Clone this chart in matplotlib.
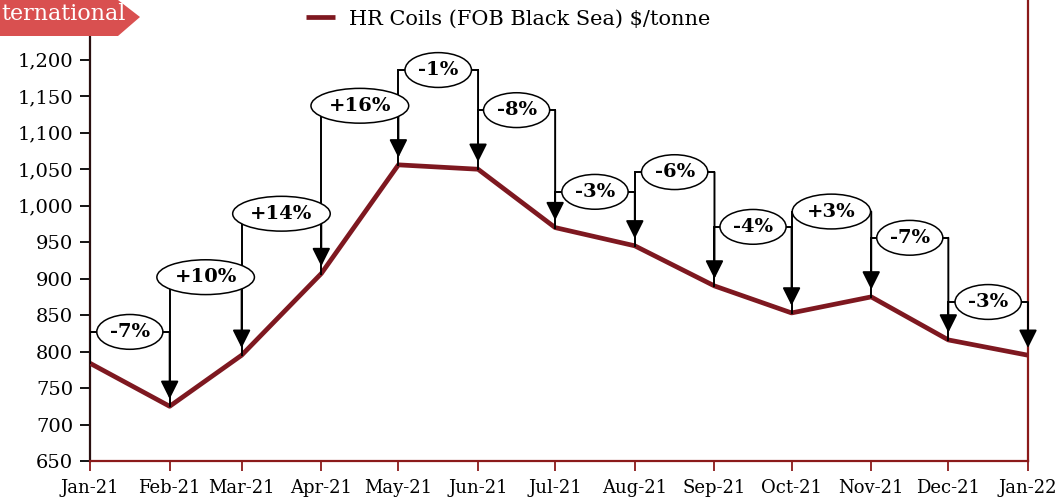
"""
HR Coils (FOB Black Sea) $/tonne, monthly Jan-21 to Jan-22,
with month-on-month change brackets.
"""
import datetime as dt
import matplotlib
matplotlib.use("Agg")
import matplotlib.pyplot as plt
import matplotlib.dates as mdates
from matplotlib.patches import Polygon

# ------------------------------------------------------------------
# Data
# ------------------------------------------------------------------
MONTHS = ["Jan-21", "Feb-21", "Mar-21", "Apr-21", "May-21", "Jun-21", "Jul-21",
          "Aug-21", "Sep-21", "Oct-21", "Nov-21", "Dec-21", "Jan-22"]
DATES = [dt.date(2021, m, 1) for m in range(1, 13)] + [dt.date(2022, 1, 1)]
PRICE = [784, 725, 795, 907, 1056, 1050, 970, 945, 890, 853, 875, 816, 795]

# month-on-month change labels as printed on the chart
CHANGE = ["-7%", "+10%", "+14%", "+16%", "-1%", "-8%",
          "-3%", "-6%", "-4%", "+3%", "-7%", "-3%"]
# level of each bracket's horizontal bar ($/tonne)
BRACKET = [827, 902, 989, 1137, 1186, 1131, 1019, 1046, 971, 992, 956, 868]

LINE_RED = "#7E1820"
SPINE_RED = "#8B1A1A"

plt.rcParams["font.family"] = ["DejaVu Serif"]

fig = plt.figure(figsize=(10.6, 5.04), dpi=100)
ax = fig.add_axes([90 / 1060, 1 - 461 / 504, (1028 - 90) / 1060, 461 / 504])

x = mdates.date2num(DATES)
ax.plot(x, PRICE, color=LINE_RED, lw=3.4, solid_capstyle="butt",
        label="HR Coils (FOB Black Sea) $/tonne", zorder=3)

# brackets: up from one month, across, arrow down onto the next
for i, lab in enumerate(CHANGE):
    x0, x1 = x[i], x[i + 1]
    lvl = BRACKET[i]
    ax.plot([x0, x0, x1], [PRICE[i], lvl, lvl], color="black", lw=1.4,
            zorder=4, solid_joinstyle="miter")
    ax.annotate("", xy=(x1, PRICE[i + 1] + 10), xytext=(x1, lvl),
                arrowprops=dict(arrowstyle="-|>,head_width=0.55,head_length=1.1",
                                color="black", lw=1.4, shrinkA=0, shrinkB=0),
                zorder=4)
    ax.text((x0 + x1) / 2, lvl, lab, ha="center", va="center",
            fontsize=14, fontweight="bold", zorder=5,
            bbox=dict(boxstyle="ellipse,pad=0.17", fc="white", ec="black", lw=1.1))

ax.set_xlim(x[0], x[-1])
ax.set_ylim(650, 1282)
ax.set_yticks(range(650, 1201, 50))
ax.yaxis.set_major_formatter(matplotlib.ticker.StrMethodFormatter("{x:,.0f}"))
ax.set_xticks(x)
ax.set_xticklabels(MONTHS)
ax.tick_params(axis="y", direction="out", length=7, width=1.3, labelsize=14,
               color="black", pad=5)
ax.tick_params(axis="x", direction="out", length=7, width=1.3, labelsize=13,
               color=SPINE_RED, pad=6)

ax.spines["top"].set_visible(False)
ax.spines["left"].set_color("#2a1010")
ax.spines["left"].set_linewidth(1.6)
ax.spines["bottom"].set_color(SPINE_RED)
ax.spines["bottom"].set_linewidth(1.6)
ax.spines["right"].set_color(SPINE_RED)
ax.spines["right"].set_linewidth(1.6)

ax.legend(loc="upper left", bbox_to_anchor=(0.21, 1.02), frameon=False,
          fontsize=15, handlelength=1.4, handletextpad=0.7)

# cropped red banner in the top-left corner
tag = Polygon([[0, 1], [118 / 1060, 1], [140 / 1060, 1 - 17 / 504],
               [118 / 1060, 1 - 36 / 504], [0, 1 - 36 / 504]],
              closed=True, transform=fig.transFigure, fc="#D95050", ec="none",
              zorder=10)
fig.patches.append(tag)
fig.text(1 / 1060, 1 - 14 / 504, "ternational", color="white", fontsize=16,
         ha="left", va="center", zorder=11)

fig.savefig("out.png", dpi=100)
